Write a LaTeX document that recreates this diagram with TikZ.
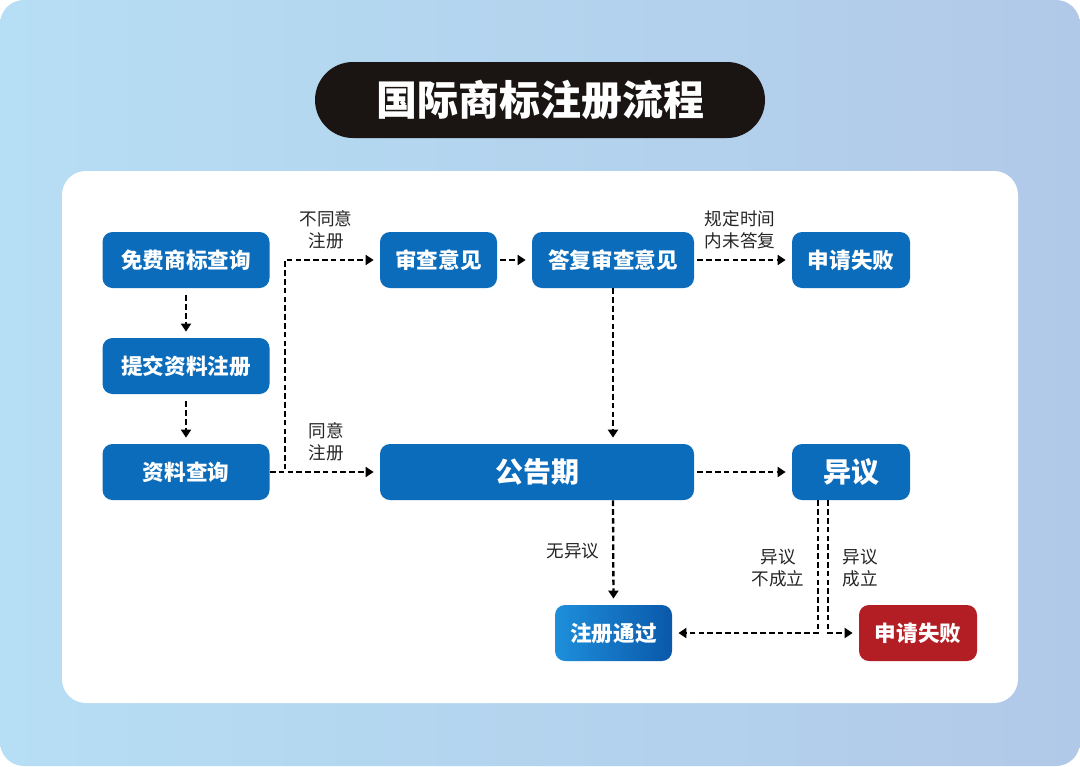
\documentclass[tikz,border=0pt]{standalone}
\usepackage{fontspec}
\setmainfont{Noto Sans CJK SC}
\usetikzlibrary{arrows.meta,positioning}

\definecolor{bgtop}{HTML}{B6DEF4}
\definecolor{bgbot}{HTML}{B1C9E8}
\definecolor{boxblue}{HTML}{0B6CBC}
\definecolor{lightblue}{HTML}{1E8FDB}
\definecolor{darkblue}{HTML}{0A58AA}
\definecolor{failred}{HTML}{B21E24}
\definecolor{pill}{HTML}{1A1412}

\tikzset{
    box/.style={rectangle, rounded corners=5pt, fill=boxblue, text=white,
        font=\bfseries\fontsize{10.8}{13}\selectfont,
        minimum width=83.5pt, minimum height=28pt, inner sep=0pt},
    bigbox/.style={box, font=\bfseries\fontsize{14}{16}\selectfont},
    failbox/.style={box, fill=failred},
    flow/.style={black, line width=1.15pt, dash pattern=on 2.8pt off 1.6pt,
        -{Triangle[length=4pt,width=5pt]}, shorten >=3pt},
    note/.style={align=center, text=black!85,
        font=\fontsize{8.8}{11.2}\selectfont, inner sep=0pt}
}

\begin{document}
\begin{tikzpicture}[x=0.5pt, y=-0.5pt]

    \useasboundingbox (0,0) rectangle (1080,766);

    % background and panel
    \shade[rounded corners=12pt, shading angle=120, left color=bgtop, right color=bgbot]
        (0,0) rectangle (1080,766);
    \fill[white, rounded corners=12pt] (62,171) rectangle (1018,703);

    % title
    \node[rectangle, rounded corners=19pt, fill=pill, text=white,
          minimum width=225pt, minimum height=38pt,
          font=\bfseries\fontsize{20.5}{24}\selectfont] (title) at (540,100) {国际商标注册流程};

    % left column
    \node[box] (mfcx) at (186,260) {免费商标查询};
    \node[box] (tjzl) at (186,366) {提交资料注册};
    \node[box] (zlcx) at (186,472) {资料查询};

    % upper row
    \node[box, minimum width=58.5pt] (scyj) at (438.5,260) {审查意见};
    \node[box, minimum width=81pt] (dfsc) at (613,260) {答复审查意见};
    \node[box, minimum width=59pt] (sqsb) at (851,260) {申请失败};

    % middle row
    \node[bigbox, minimum width=157pt] (ggq) at (537,472) {公告期};
    \node[bigbox, minimum width=59pt] (yy) at (851,472) {异议};

    % lower row
    \node[box, minimum width=58.5pt, fill=none, left color=lightblue, right color=darkblue] (zctg) at (613.5,633) {注册通过};
    \node[failbox, minimum width=59pt] (sqsbb) at (918,633) {申请失败};

    % arrows
    \draw[flow, shorten <=3.5pt] (mfcx) -- (tjzl);
    \draw[flow, shorten <=3.5pt] (tjzl) -- (zlcx);
    \draw[flow] (zlcx.east) -- ++(15,0) coordinate (turn) |- (scyj.west);
    \draw[flow] (zlcx.east) -- (ggq.west);
    \draw[flow, shorten <=1.5pt] (scyj) -- (dfsc);
    \draw[flow, shorten <=1.5pt] (dfsc) -- (sqsb);
    \draw[flow] (dfsc.south) -- (dfsc.south |- ggq.north);
    \draw[flow, shorten <=1.5pt] (ggq) -- (yy);
    \draw[flow] (dfsc.south |- ggq.south) -- (zctg.north);
    \draw[flow] ([xshift=-16.5pt]yy.south) |- (zctg.east);
    \draw[flow] ([xshift=-11.5pt]yy.south) |- (sqsbb.west);

    % labels
    \node[note] (l1) at (326,230) {不同意\\注册};
    \node[note] (l2) at (326,442) {同意\\注册};
    \node[note] (l3) at (740,230) {规定时间\\内未答复};
    \node[note] (l4) at (573,551) {无异议};
    \node[note] (l5) at (778,568) {异议\\不成立};
    \node[note] (l6) at (860,568) {异议\\成立};

\end{tikzpicture}
\end{document}
